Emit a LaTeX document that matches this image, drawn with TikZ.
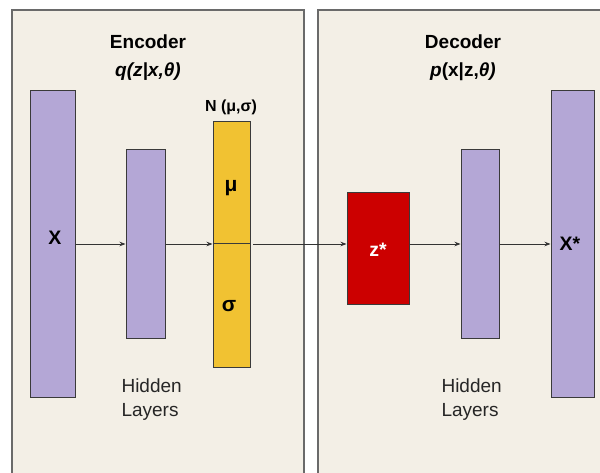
\documentclass[tikz,border=0pt]{standalone}
\usepackage{fontspec}
\setmainfont{Liberation Sans}
\usetikzlibrary{arrows.meta}
\definecolor{panelbg}{HTML}{F3EFE6}
\definecolor{panelline}{HTML}{6A6A6A}
\definecolor{purplebar}{HTML}{B4A7D6}
\definecolor{yellowbar}{HTML}{F1C232}
\definecolor{redbar}{HTML}{CC0000}
\definecolor{barline}{HTML}{3A3A3A}
\tikzset{
  panel/.style={fill=panelbg, draw=panelline, line width=1.5pt},
  bar/.style={draw=barline, line width=1pt, inner sep=0pt, minimum width=#1},
  title/.style={font=\fontsize{19}{22}\selectfont\bfseries},
  barlabel/.style={font=\fontsize{19.5}{22}\selectfont\bfseries},
  greeklabel/.style={font=\fontsize{21}{24}\selectfont\bfseries},
  hidden/.style={font=\fontsize{19}{24}\selectfont, align=left, text=black!85},
  conn/.style={draw=black!80, line width=0.8pt, -{Stealth[length=6pt,width=4.5pt]}}
}
\begin{document}
\begin{tikzpicture}[x=1pt,y=1pt]
\useasboundingbox (0,0) rectangle (600,472);
\fill[white] (0,0) rectangle (600,472);
\begin{scope}
\clip (0,0) rectangle (600,472);
\draw[panel] (12,-10) rectangle (304,462);
\draw[panel] (318,-10) rectangle (612,462);
\end{scope}

% titles
\node[title] (enc) at (148,430) {Encoder};
\node[title] (encq) at (148,400) {\itshape q(z|x,θ)};
\node[title] (dec) at (463,430) {Decoder};
\node[title] (decp) at (463,400) {\itshape p\upshape(x|z,\itshape θ)};
\node[font=\fontsize{16}{18}\selectfont\bfseries] (nlab) at (231,365) {N (μ,σ)};

% bars
\node[bar=45pt, minimum height=306pt, fill=purplebar] (X) at (52.5,228) {};
\node[bar=39pt, minimum height=188pt, fill=purplebar] (h1) at (145.5,228) {};
\node[bar=37pt, minimum height=245pt, fill=yellowbar] (Y) at (231.5,227.5) {};
\node[bar=62pt, minimum height=111pt, fill=redbar] (Z) at (378,223.5) {};
\node[bar=38pt, minimum height=188pt, fill=purplebar] (h2) at (480,228) {};
\node[bar=43pt, minimum height=307pt, fill=purplebar] (Xs) at (572.5,228) {};

% divider in the yellow bar
\coordinate (dl) at (Y.west |- 0,228);
\coordinate (dr) at (Y.east |- 0,228);
\draw[draw=barline, line width=1pt] (dl) -- (dr);

% bar labels
\node[barlabel] (Xl) at (55,234) {X};
\node[greeklabel] (mu) at (231,284) {μ};
\node[greeklabel] (sig) at (229,166) {σ};
\node[barlabel, text=white] (zl) at (378,222) {z*};
\node[barlabel] (Xsl) at (570,228) {X*};

% hidden layers labels
\node[hidden, anchor=west] (hl1) at (118,72) {Hidden\\Layers};
\node[hidden, anchor=west] (hl2) at (438,72) {Hidden\\Layers};

% connectors
\draw[conn] (X.east |- 0,228) -- (h1.west |- 0,228);
\draw[conn] (h1.east |- 0,228) -- (Y.west |- 0,228);
\draw[conn, shorten <=2.5pt] (dr) -- (Z.west |- dr);
\draw[conn] (Z.east |- 0,228) -- (h2.west |- 0,228);
\draw[conn] (h2.east |- 0,228) -- (Xs.west |- 0,228);
\end{tikzpicture}
\end{document}
